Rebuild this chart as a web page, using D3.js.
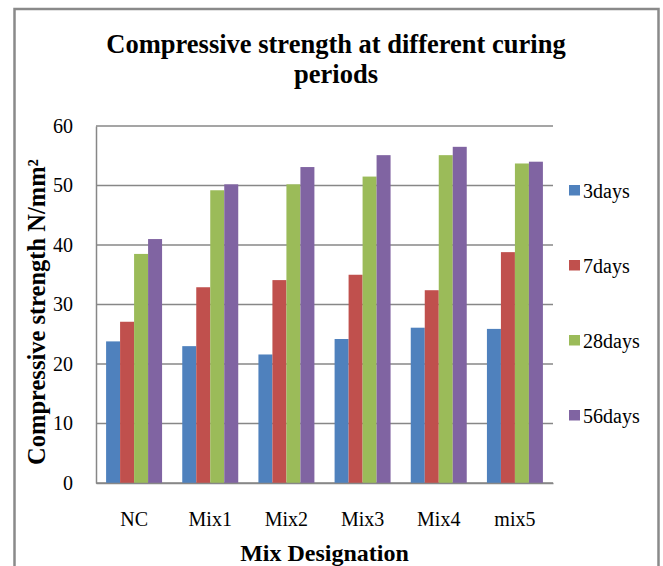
<!DOCTYPE html>
<html>
<head>
<meta charset="utf-8">
<script src="https://cdn.jsdelivr.net/npm/d3@7"></script>
<style>
  html, body { margin: 0; padding: 0; background: #fff; }
  svg { display: block; }
  text { font-family: "Liberation Serif", "Times New Roman", serif; fill: #000; }
</style>
</head>
<body>
<svg id="chart" width="663" height="566"></svg>
<script>
// Mix designations along the x axis
const categories = ["NC", "Mix1", "Mix2", "Mix3", "Mix4", "mix5"];
// Curing periods (one series per period)
const seriesNames = ["3days", "7days", "28days", "56days"];
// Compressive strength (N/mm²) per curing period, one value per mix
const days3  = [23.8, 23.0, 21.6, 24.2, 26.1, 25.9];
const days7  = [27.1, 32.9, 34.1, 35.0, 32.4, 38.8];
const days28 = [38.5, 49.2, 50.2, 51.5, 55.1, 53.7];
const days56 = [41.0, 50.2, 53.1, 55.1, 56.5, 54.0];
const yTicks = [0, 10, 20, 30, 40, 50, 60];
const colors = ["#4F81BD", "#C0504D", "#9BBB59", "#8064A2"];

const seriesValues = [days3, days7, days28, days56];
const rows = categories.map((c, i) => {
  const r = { category: c };
  seriesNames.forEach((s, j) => { r[s] = seriesValues[j][i]; });
  return r;
});

const svg = d3.select("#chart");
const serif = "'Liberation Serif', 'Times New Roman', serif";

// Outer chart frame
svg.append("rect")
  .attr("x", 14.5).attr("y", 9)
  .attr("width", 644).attr("height", 570)
  .attr("fill", "none")
  .attr("stroke", "#8a8a8a")
  .attr("stroke-width", 2.5);

const plot = { left: 96, right: 553, top: 126, bottom: 483 };

const x0 = d3.scaleBand()
  .domain(categories)
  .range([plot.left, plot.right])
  .paddingInner(0.265)
  .paddingOuter(0.1325);

const x1 = d3.scaleBand()
  .domain(seriesNames)
  .range([0, x0.bandwidth()])
  .padding(0);

const y = d3.scaleLinear()
  .domain([0, 60])
  .range([plot.bottom, plot.top]);

// Horizontal gridlines
svg.append("g")
  .selectAll("line")
  .data(yTicks)
  .join("line")
  .attr("x1", plot.left).attr("x2", plot.right)
  .attr("y1", d => y(d)).attr("y2", d => y(d))
  .attr("stroke", "#878787")
  .attr("stroke-width", 1.5);

// Bars
const groups = svg.append("g")
  .selectAll("g")
  .data(rows)
  .join("g")
  .attr("transform", d => `translate(${x0(d.category)},0)`);

groups.selectAll("rect")
  .data(d => seriesNames.map((s, j) => ({ key: s, value: d[s], color: colors[j] })))
  .join("rect")
  .attr("x", d => x1(d.key))
  .attr("width", x1.bandwidth())
  .attr("y", d => y(d.value))
  .attr("height", d => y(0) - y(d.value))
  .attr("fill", d => d.color);

// Y axis
const yAxis = d3.axisLeft(y).tickValues(yTicks).tickSize(0).tickPadding(23);
const yg = svg.append("g")
  .attr("transform", `translate(${plot.left},0)`)
  .call(yAxis);
yg.select(".domain").attr("stroke", "#878787").attr("stroke-width", 1.5);
yg.selectAll("text")
  .style("font-family", serif)
  .style("font-size", "20px")
  .attr("fill", "#000");

// X axis
const xAxis = d3.axisBottom(x0).tickSize(0).tickPadding(29);
const xg = svg.append("g")
  .attr("transform", `translate(0,${plot.bottom})`)
  .call(xAxis);
xg.select(".domain").attr("stroke", "#878787").attr("stroke-width", 1.5);
xg.selectAll("text")
  .style("font-family", serif)
  .style("font-size", "20px")
  .attr("fill", "#000");

// Title
const title = svg.append("text")
  .attr("text-anchor", "middle")
  .style("font-size", "26.5px")
  .style("font-weight", "bold");
title.append("tspan").attr("x", 336).attr("y", 53).text("Compressive strength at different curing");
title.append("tspan").attr("x", 336).attr("y", 83).text("periods");

// Axis titles
svg.append("text")
  .attr("transform", `translate(45,312) rotate(-90)`)
  .attr("text-anchor", "middle")
  .style("font-size", "24.5px")
  .style("font-weight", "bold")
  .text("Compressive strength N/mm²");

svg.append("text")
  .attr("x", (plot.left + plot.right) / 2)
  .attr("y", 561)
  .attr("text-anchor", "middle")
  .style("font-size", "24px")
  .style("font-weight", "bold")
  .text("Mix Designation");

// Legend
const legend = svg.append("g")
  .selectAll("g")
  .data(seriesNames)
  .join("g")
  .attr("transform", (d, i) => `translate(569,${190.5 + i * 75})`);
legend.append("rect")
  .attr("x", 0).attr("y", -5.5)
  .attr("width", 11).attr("height", 10.5)
  .attr("fill", (d, i) => colors[i]);
legend.append("text")
  .attr("x", 14).attr("y", 7)
  .style("font-size", "20px")
  .text(d => d);
</script>
</body>
</html>
